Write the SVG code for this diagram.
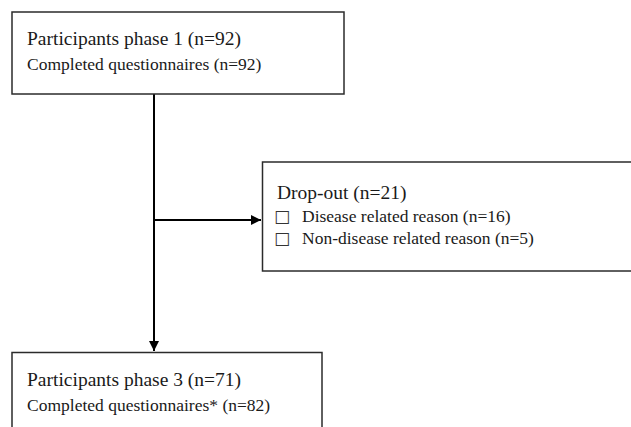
<svg xmlns="http://www.w3.org/2000/svg" width="631" height="427" viewBox="0 0 631 427">
<style>
.box{fill:#fff;stroke:#2b2b2b;stroke-width:1.5}
.t1{font-family:"Liberation Serif","Times New Roman",serif;font-size:19.5px;fill:#1a1a1a}
.t2{font-family:"Liberation Serif","Times New Roman",serif;font-size:17.5px;fill:#1a1a1a}
.sq{font-family:"DejaVu Sans",sans-serif;font-size:17px;fill:#333}
.ln{fill:none;stroke:#000;stroke-width:2}
</style>
<defs>
<marker id="ah" viewBox="0 0 10 10" refX="10" refY="5" markerWidth="5" markerHeight="5" markerUnits="strokeWidth" orient="auto">
<path d="M0,0 L10,5 L0,10 z" fill="#000"/>
</marker>
</defs>
<rect width="631" height="427" fill="#fff"/>
<g id="connectors">
<path class="ln" d="M154,94 V351" marker-end="url(#ah)"/>
<path class="ln" d="M154,220 H261" marker-end="url(#ah)"/>
</g>
<g id="phase1">
<rect class="box" x="12" y="12" width="332" height="82"/>
<text class="t1" x="27" y="45">Participants phase 1 (n=92)</text>
<text class="t2" x="27" y="70">Completed questionnaires (n=92)</text>
</g>
<g id="dropout">
<rect class="box" x="262.5" y="162" width="380" height="109"/>
<text class="t1" x="277" y="199">Drop-out (n=21)</text>
<text class="sq" x="274" y="222">□</text>
<text class="t2" x="302" y="222">Disease related reason (n=16)</text>
<text class="sq" x="274" y="244">□</text>
<text class="t2" x="302" y="244">Non-disease related reason (n=5)</text>
</g>
<g id="phase3">
<rect class="box" x="12" y="352.5" width="310" height="90"/>
<text class="t1" x="27" y="386">Participants phase 3 (n=71)</text>
<text class="t2" x="27" y="411">Completed questionnaires* (n=82)</text>
</g>
</svg>
